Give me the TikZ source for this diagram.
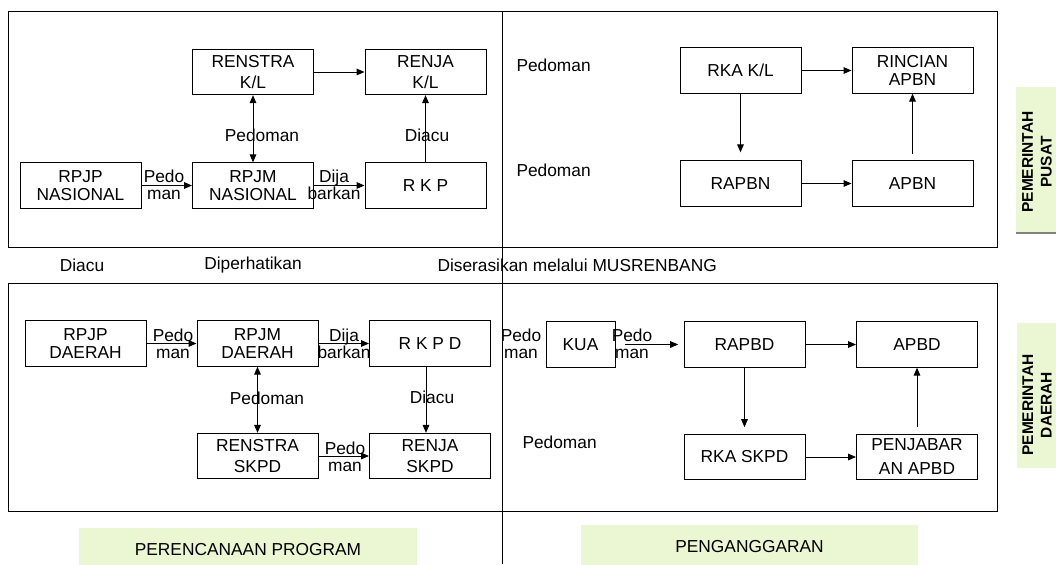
\documentclass[tikz,border=0pt]{standalone}
\usepackage{fontspec}
\setmainfont{Liberation Sans}
\usepackage{xcolor}
\usepackage{tikz}
\usetikzlibrary{arrows.meta}
\usetikzlibrary{positioning}

\definecolor{tabgreen}{RGB}{235,246,210}

\begin{document}
\begin{tikzpicture}[
    x=0.75pt, y=-0.75pt,
    >={Triangle[length=6pt, width=5pt]},
    every path/.style={line width=0.75pt},
    box/.style={rectangle, draw, minimum width=90.75pt, minimum height=34pt,
      inner sep=0pt, align=center, font=\fontsize{13}{13}\selectfont},
    lbl/.style={inner sep=0pt, align=center, font=\fontsize{13}{13}\selectfont},
    side/.style={inner sep=0pt, align=center, rotate=90,
      font=\fontsize{11.6}{14}\selectfont\bfseries},
  ]
  \useasboundingbox (0,0) rectangle (1056,564);

  % Frames
  \draw (8,11) rectangle (997,247);
  \draw (8,283) rectangle (997,511);
  \draw (502,11) -- (502,564);

  % Pemerintah pusat
  \node[box] (renstraKL) at (253, 72)    {RENSTRA\\[2.5pt]K/L};
  \node[box] (renjaKL)   at (425.5, 72)  {RENJA\\[2.5pt]K/L};
  \node[box] (rpjpN)     at (80.5, 185.5) {RPJP\\NASIONAL};
  \node[box] (rpjmN)     at (253, 185.5) {RPJM\\NASIONAL};
  \node[box] (rkp)       at (425.5, 185.5) {R K P};
  \node[box] (rkaKL)     at (740.5, 70.5) {RKA K/L};
  \node[box] (rincian)   at (912.5, 70.5) {RINCIAN\\APBN};
  \node[box] (rapbn)     at (740.5, 183.5) {RAPBN};
  \node[box] (apbn)      at (912.5, 183.5) {APBN};

  % Pemerintah daerah
  \node[box] (rpjpD)     at (85.5, 343.5) {RPJP\\[1pt]DAERAH};
  \node[box] (rpjmD)     at (257.5, 343.5) {RPJM\\[1pt]DAERAH};
  \node[box] (rkpd)      at (430, 343.5) {R K P D};
  \node[box] (renstraS)  at (257.5, 456) {RENSTRA\\[3pt]SKPD};
  \node[box] (renjaS)    at (430, 456)   {RENJA\\[3pt]SKPD};
  \node[box, minimum width=51.75pt] (kua) at (580.5, 344.5) {KUA};
  \node[box] (rapbd)     at (744.5, 344.5) {RAPBD};
  \node[box] (apbd)      at (917, 344.5) {APBD};
  \node[box] (rkaS)      at (744.5, 457) {RKA SKPD};
  \node[box] (penjab)    at (917, 457)   {PENJABAR\\[5pt]AN APBD};

  % Arrows, top
  \draw[->] (renstraKL) -- (renjaKL);
  \draw[->] (rpjpN) -- (rpjmN);
  \draw[->] (rpjmN) -- (rkp);
  \draw[<->] (rpjmN) -- (renstraKL);
  \draw[->] (rkp) -- (renjaKL);
  \draw[->] (rkaKL) -- (rincian);
  \draw[->, shorten >=6pt] (rkaKL) -- (rapbn);
  \draw[->] (rapbn) -- (apbn);
  \draw[->, shorten <=5pt] (apbn) -- (rincian);

  % Arrows, bottom
  \draw[->] (rpjpD) -- (rpjmD);
  \draw[->] (rpjmD) -- (rkpd);
  \draw[<->] (rpjmD) -- (renstraS);
  \draw[->] ([xshift=-3pt]rkpd.south) -- ([xshift=-3pt]renjaS.north);
  \draw[->] (renstraS) -- (renjaS);
  \draw[->, shorten <=7pt, shorten >=4pt] (kua) -- (rapbd);
  \draw[->] (rapbd) -- (apbd);
  \draw[->, shorten >=5pt] (rapbd) -- (rkaS);
  \draw[->] (rkaS) -- (penjab);
  \draw[->, shorten <=5pt] (penjab) -- (apbd);

  % Labels on the arrows
  \node[lbl] (pedoN)   at (164, 185)   {Pedo\\man};
  \node[lbl] (dijaN)   at (334, 184.5) {Dija\\barkan};
  \node[lbl] (pedomN)  at (262, 135)   {Pedoman};
  \node[lbl] (diacuN)  at (427, 135)   {Diacu};
  \node[lbl] (pedoD)   at (173, 343.5) {Pedo\\man};
  \node[lbl] (dijaD)   at (344, 343.5) {Dija\\barkan};
  \node[lbl] (pedomD)  at (267, 398)   {Pedoman};
  \node[lbl] (diacuD)  at (432, 397)   {Diacu};
  \node[lbl] (pedoS)   at (345, 457)   {Pedo\\man};
  \node[lbl] (pedoK)   at (521, 344)   {Pedo\\man};
  \node[lbl] (pedoKR)  at (632, 344)   {Pedo\\man};
  \node[lbl, anchor=west] (pedomA) at (516, 65)  {Pedoman};
  \node[lbl, anchor=west] (pedomB) at (516, 170) {Pedoman};
  \node[lbl, anchor=west] (pedomC) at (522, 442) {Pedoman};

  % Between the frames
  \node[lbl] (diacu)  at (82, 265)  {Diacu};
  \node[lbl] (diper)  at (253, 265) {Diperhatikan};
  \node[lbl, anchor=west] (diser) at (437, 265) {Diserasikan melalui MUSRENBANG};

  % Green tabs
  \fill[tabgreen] (79,528) rectangle (417,566);
  \fill[tabgreen] (581,525) rectangle (918,566);
  \node[lbl] (plan)   at (248, 550)   {PERENCANAAN PROGRAM};
  \node[lbl] (budget) at (749.5, 547) {PENGANGGARAN};

  \fill[tabgreen] (1016,87) rectangle (1060,233);
  \draw[gray, line width=1.5pt] (1016,233) -- (1058,233);
  \node[side] (pusat) at (1037, 162) {PEMERINTAH\\PUSAT};
  \fill[tabgreen] (1017,323) rectangle (1060,468);
  \node[side] (daerah) at (1037, 405) {PEMERINTAH\\DAERAH};

\end{tikzpicture}
\end{document}
